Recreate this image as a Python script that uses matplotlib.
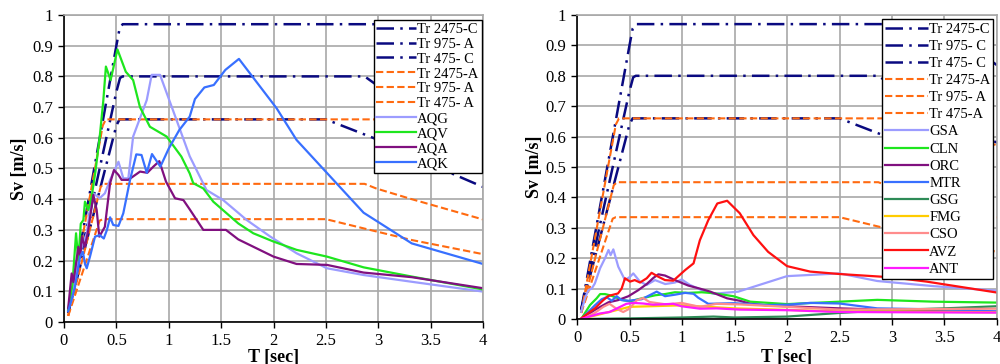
import matplotlib
matplotlib.use('Agg')
import matplotlib.pyplot as plt

plt.rcParams['font.family'] = ['Liberation Serif', 'DejaVu Serif']

# design spectra (same in both panels)
t_c2475 = [0.04, 0.50, 0.53, 0.56, 3.45, 4.0]
v_c2475 = [0.03, 0.90, 0.955, 0.97, 0.97, 0.835]
t_c975 = [0.04, 0.50, 0.535, 0.56, 2.87, 3.32, 4.0]
v_c975 = [0.03, 0.75, 0.795, 0.80, 0.80, 0.69, 0.58]
t_c475 = [0.04, 0.50, 0.53, 2.5, 2.95, 3.32, 4.0]
v_c475 = [0.03, 0.64, 0.66, 0.66, 0.60, 0.54, 0.44]
t_a2475 = [0.04, 0.37, 0.40, 3.45, 4.0]
v_a2475 = [0.02, 0.64, 0.66, 0.66, 0.57]
t_a975 = [0.04, 0.35, 0.38, 2.87, 2.98, 3.32, 4.0]
v_a975 = [0.02, 0.44, 0.45, 0.45, 0.435, 0.40, 0.334]
t_a475 = [0.04, 0.34, 0.37, 2.5, 2.86, 3.32, 4.0]
v_a475 = [0.02, 0.33, 0.335, 0.335, 0.305, 0.267, 0.221]

# left panel records
t_aqg = [0.04, 0.073, 0.12, 0.17, 0.217, 0.248, 0.28, 0.34, 0.39, 0.44, 0.52, 0.566, 0.614, 0.66,
         0.79, 0.837, 0.917, 1.04, 1.2, 1.36, 1.52, 1.745, 1.97, 2.22, 2.51, 2.86, 3.32, 4.0]
v_aqg = [0.04, 0.072, 0.18, 0.245, 0.289, 0.365, 0.419, 0.403, 0.419, 0.463, 0.522, 0.468, 0.468, 0.604,
         0.723, 0.805, 0.805, 0.69, 0.54, 0.43, 0.397, 0.332, 0.278, 0.224, 0.175, 0.153, 0.131, 0.099]
t_aqv = [0.04, 0.08, 0.115, 0.137, 0.16, 0.185, 0.2, 0.232, 0.264, 0.3, 0.34, 0.375, 0.40, 0.445, 0.47,
         0.51, 0.59, 0.66, 0.725, 0.82, 0.98, 1.12, 1.2, 1.234, 1.33, 1.425, 1.664, 1.807, 2.0, 2.22,
         2.51, 2.86, 3.32, 4.0]
v_aqv = [0.04, 0.12, 0.289, 0.2, 0.32, 0.332, 0.392, 0.365, 0.408, 0.49, 0.6, 0.72, 0.832, 0.788, 0.826,
         0.888, 0.815, 0.788, 0.70, 0.636, 0.604, 0.539, 0.484, 0.452, 0.435, 0.392, 0.321, 0.289, 0.262,
         0.235, 0.213, 0.178, 0.148, 0.106]
t_aqa = [0.04, 0.073, 0.09, 0.115, 0.137, 0.155, 0.17, 0.2, 0.232, 0.28, 0.312, 0.337, 0.39, 0.44, 0.477,
         0.52, 0.55, 0.614, 0.726, 0.795, 0.853, 0.91, 0.974, 1.06, 1.14, 1.2, 1.33, 1.546, 1.664, 2.0,
         2.22, 2.51, 2.86, 3.32, 4.0]
v_aqa = [0.045, 0.158, 0.13, 0.191, 0.245, 0.21, 0.278, 0.245, 0.3, 0.414, 0.365, 0.278, 0.31, 0.452, 0.495,
         0.479, 0.463, 0.463, 0.49, 0.486, 0.506, 0.524, 0.457, 0.403, 0.397, 0.367, 0.3, 0.3, 0.269, 0.213,
         0.189, 0.186, 0.161, 0.146, 0.11]
t_aqk = [0.04, 0.07, 0.105, 0.153, 0.18, 0.2, 0.217, 0.248, 0.296, 0.34, 0.38, 0.41, 0.44, 0.47, 0.52,
         0.566, 0.63, 0.69, 0.74, 0.79, 0.84, 0.92, 1.0, 1.1, 1.2, 1.25, 1.34, 1.43, 1.54, 1.67, 2.03,
         2.22, 2.86, 3.32, 4.0]
v_aqk = [0.035, 0.07, 0.115, 0.213, 0.229, 0.19, 0.175, 0.213, 0.278, 0.283, 0.272, 0.3, 0.341, 0.316, 0.313,
         0.354, 0.462, 0.546, 0.544, 0.486, 0.547, 0.506, 0.565, 0.625, 0.669, 0.726, 0.764, 0.772, 0.821,
         0.857, 0.696, 0.593, 0.356, 0.256, 0.189]

# right panel records
t_gsa = [0.04, 0.076, 0.108, 0.14, 0.17, 0.22, 0.267, 0.3, 0.32, 0.346, 0.393, 0.457, 0.505, 0.536, 0.6,
         0.664, 0.743, 0.84, 0.933, 0.997, 1.076, 1.187, 1.3, 1.536, 2.0, 2.5, 2.86, 3.4, 4.0]
v_gsa = [0.024, 0.068, 0.095, 0.1, 0.117, 0.167, 0.2, 0.227, 0.21, 0.229, 0.172, 0.128, 0.139, 0.15, 0.123,
         0.112, 0.128, 0.115, 0.12, 0.13, 0.112, 0.095, 0.083, 0.09, 0.141, 0.15, 0.125, 0.108, 0.093]
t_cln = [0.04, 0.124, 0.187, 0.22, 0.267, 0.314, 0.378, 0.44, 0.505, 0.616, 0.743, 0.838, 0.933, 1.06,
         1.187, 1.3, 1.49, 1.65, 2.0, 2.5, 2.86, 3.4, 4.0]
v_cln = [0.0, 0.046, 0.068, 0.082, 0.082, 0.078, 0.07, 0.062, 0.058, 0.068, 0.078, 0.082, 0.088, 0.086,
         0.088, 0.085, 0.075, 0.057, 0.049, 0.057, 0.063, 0.057, 0.054]
t_orc = [0.04, 0.17, 0.3, 0.39, 0.49, 0.584, 0.664, 0.727, 0.775, 0.838, 0.933, 1.06, 1.17, 1.27, 1.43,
         1.55, 1.65, 1.8, 2.0, 2.5, 3.0, 4.0]
v_orc = [0.0, 0.03, 0.055, 0.062, 0.075, 0.095, 0.115, 0.135, 0.147, 0.143, 0.128, 0.11, 0.1, 0.09, 0.068,
         0.06, 0.05, 0.045, 0.042, 0.035, 0.03, 0.024]
t_mtr = [0.04, 0.17, 0.235, 0.283, 0.33, 0.378, 0.425, 0.489, 0.616, 0.759, 0.838, 0.933, 1.03, 1.11,
         1.155, 1.25, 1.49, 1.8, 2.0, 2.22, 2.5, 2.86, 3.4, 4.0]
v_mtr = [0.0, 0.045, 0.065, 0.072, 0.06, 0.075, 0.062, 0.06, 0.065, 0.09, 0.075, 0.08, 0.086, 0.083,
         0.07, 0.05, 0.052, 0.046, 0.047, 0.053, 0.051, 0.035, 0.032, 0.025]
t_gsg = [0.04, 0.5, 1.0, 1.3, 1.5, 2.0, 2.5, 3.0, 3.5, 4.0]
v_gsg = [0.0, 0.002, 0.005, 0.008, 0.005, 0.008, 0.02, 0.03, 0.035, 0.042]
t_fmg = [0.04, 0.5, 1.0, 1.5, 2.0, 2.5, 3.0, 4.0]
v_fmg = [0.0, 0.04, 0.045, 0.035, 0.03, 0.025, 0.025, 0.022]
t_cso = [0.04, 0.17, 0.25, 0.31, 0.375, 0.44, 0.5, 0.566, 0.63, 0.69, 0.85, 0.995, 1.17, 1.33, 1.55,
         2.0, 2.5, 4.0]
v_cso = [0.0, 0.02, 0.04, 0.05, 0.034, 0.023, 0.034, 0.061, 0.069, 0.056, 0.048, 0.053, 0.04, 0.05,
         0.048, 0.04, 0.031, 0.034]
t_avz = [0.04, 0.17, 0.25, 0.3, 0.39, 0.425, 0.457, 0.505, 0.55, 0.6, 0.664, 0.71, 0.775, 0.838, 0.917,
         1.03, 1.11, 1.17, 1.25, 1.336, 1.43, 1.55, 1.68, 1.82, 2.0, 2.22, 2.5, 3.0, 3.33, 4.0]
v_avz = [0.002, 0.035, 0.062, 0.076, 0.084, 0.1, 0.134, 0.123, 0.128, 0.12, 0.134, 0.152, 0.139, 0.128,
         0.126, 0.161, 0.183, 0.259, 0.325, 0.38, 0.389, 0.348, 0.276, 0.221, 0.174, 0.156, 0.148, 0.137,
         0.123, 0.087]
t_ant = [0.04, 0.216, 0.31, 0.375, 0.47, 0.534, 0.63, 0.725, 0.916, 0.995, 1.17, 1.33, 1.55, 2.0, 2.5, 4.0]
v_ant = [0.0, 0.018, 0.023, 0.034, 0.05, 0.053, 0.051, 0.047, 0.05, 0.042, 0.034, 0.035, 0.031, 0.029,
         0.023, 0.021]

navy = '#0a0a80'
orange = '#ff6a10'
dashdot = (0, (7, 2.5, 1, 2.5))
dashed = (0, (3.5, 1.6))


def design(ax, labels):
    ax.plot(t_c2475, v_c2475, color=navy, lw=1.8, ls=dashdot, label=labels[0])
    ax.plot(t_c975, v_c975, color=navy, lw=1.8, ls=dashdot, label=labels[1])
    ax.plot(t_c475, v_c475, color=navy, lw=1.8, ls=dashdot, label=labels[2])
    ax.plot(t_a2475, v_a2475, color=orange, lw=1.5, ls=dashed, label=labels[3])
    ax.plot(t_a975, v_a975, color=orange, lw=1.5, ls=dashed, label=labels[4])
    ax.plot(t_a475, v_a475, color=orange, lw=1.5, ls=dashed, label=labels[5])


def style(ax, xlab_y, ylab_x):
    ax.set_xlim(0, 4)
    ax.set_ylim(0, 1)
    ax.set_xticks([0, 0.5, 1, 1.5, 2, 2.5, 3, 3.5, 4])
    ax.set_xticklabels(['0', '0.5', '1', '1.5', '2', '2.5', '3', '3.5', '4'])
    ax.set_yticks([i / 10 for i in range(11)])
    ax.set_yticklabels(['0', '0.1', '0.2', '0.3', '0.4', '0.5', '0.6', '0.7', '0.8', '0.9', '1'])
    ax.grid(True, color='#a8a8a8', lw=1.2)
    ax.set_axisbelow(True)
    for s in ['top', 'right']:
        ax.spines[s].set_color('#a8a8a8')
        ax.spines[s].set_linewidth(1.2)
    for s in ['left', 'bottom']:
        ax.spines[s].set_color('black')
        ax.spines[s].set_linewidth(1.2)
    ax.tick_params(direction='out', length=4, width=1, labelsize=12, pad=4)
    ax.set_xlabel('T [sec]', fontsize=13, fontweight='bold')
    ax.set_ylabel('Sv [m/s]', fontsize=13, fontweight='bold')
    ax.xaxis.set_label_coords(0.5, xlab_y)
    ax.yaxis.set_label_coords(ylab_x, 0.5)


fig = plt.figure(figsize=(10, 3.64), dpi=100)
ax1 = fig.add_axes([0.064, 0.1154, 0.419, 0.8434])
ax2 = fig.add_axes([0.577, 0.1236, 0.42, 0.8352])

design(ax1, ['Tr 2475-C', 'Tr 975- A', 'Tr 475- C', 'Tr 2475-A', 'Tr 975- A', 'Tr 475- A'])
ax1.plot(t_aqg, v_aqg, color='#9c9cff', lw=1.6, label='AQG')
ax1.plot(t_aqv, v_aqv, color='#1ee61e', lw=1.6, label='AQV')
ax1.plot(t_aqa, v_aqa, color='#80107f', lw=1.6, label='AQA')
ax1.plot(t_aqk, v_aqk, color='#3870ff', lw=1.6, label='AQK')
style(ax1, -0.088, -0.085)
ax1.legend(loc='upper right', bbox_to_anchor=(1.0, 0.99), fontsize=10.5, frameon=True, fancybox=False,
           edgecolor='black', framealpha=1, handlelength=2.7, handletextpad=0.1, labelspacing=0.12,
           borderpad=0.2, borderaxespad=0.1)

design(ax2, ['Tr 2475-C', 'Tr 975- C', 'Tr 475- C', 'Tr 2475-A', 'Tr 975- A', 'Tr 475-A'])
ax2.plot(t_gsa, v_gsa, color='#9c9cff', lw=1.6, label='GSA')
ax2.plot(t_cln, v_cln, color='#1ee61e', lw=1.6, label='CLN')
ax2.plot(t_orc, v_orc, color='#80107f', lw=1.6, label='ORC')
ax2.plot(t_mtr, v_mtr, color='#3870ff', lw=1.6, label='MTR')
ax2.plot(t_gsg, v_gsg, color='#2e8b57', lw=1.6, label='GSG')
ax2.plot(t_fmg, v_fmg, color='#ffcc00', lw=1.6, label='FMG')
ax2.plot(t_cso, v_cso, color='#ff8c8c', lw=1.6, label='CSO')
ax2.plot(t_avz, v_avz, color='#ff1010', lw=1.6, label='AVZ')
ax2.plot(t_ant, v_ant, color='#ff1aff', lw=1.6, label='ANT')
style(ax2, -0.098, -0.08)
ax2.legend(loc='upper right', bbox_to_anchor=(0.995, 0.99), fontsize=10.5, frameon=True, fancybox=False,
           edgecolor='black', framealpha=1, handlelength=2.9, handletextpad=0.1, labelspacing=0.27,
           borderpad=0.2, borderaxespad=0.1)

fig.savefig('out.png', dpi=100)
